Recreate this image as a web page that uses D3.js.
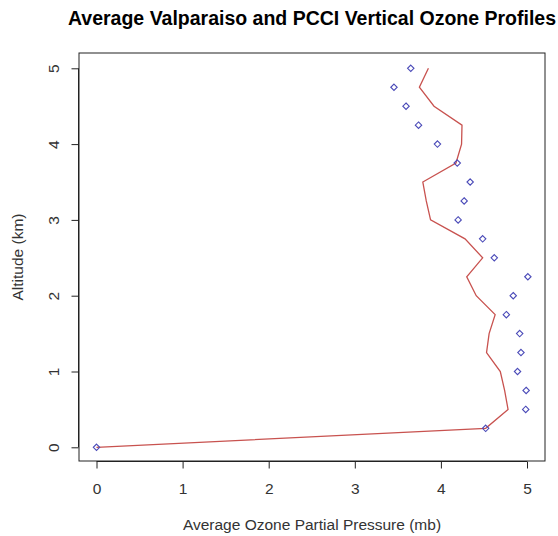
<!DOCTYPE html>
<meta charset="utf-8">
<script src="https://d3js.org/d3.v7.min.js"></script>
<style>
  body { margin: 0; background: #fff; }
  text { font-family: "Liberation Sans", Arial, sans-serif; }
</style>
<div id="my_dataviz"></div>
<script>

// altitudes (km) shared by both profiles
var altitude = [0, 0.25, 0.5, 0.75, 1, 1.25, 1.5, 1.75, 2, 2.25, 2.5, 2.75, 3, 3.25, 3.5, 3.75, 4, 4.25, 4.5, 4.75, 5];

// Valparaiso profile (points)
var valparaiso = [0, 4.52, 4.985, 4.99, 4.89, 4.93, 4.915, 4.76, 4.84, 5.01, 4.62, 4.485, 4.20, 4.27, 4.34, 4.19, 3.96, 3.74, 3.595, 3.455, 3.65];

// PCCI profile (line)
var pcci = [0, 4.52, 4.78, 4.74, 4.69, 4.53, 4.56, 4.63, 4.41, 4.30, 4.485, 4.28, 3.88, 3.83, 3.79, 4.175, 4.24, 4.245, 3.92, 3.75, 3.855];

var xTicks = [0, 1, 2, 3, 4, 5];
var yTicks = [0, 1, 2, 3, 4, 5];

var W = 558, H = 536;
var box = {left: 79, right: 545, top: 53, bottom: 461};

var svg = d3.select("#my_dataviz")
  .append("svg")
    .attr("width", W)
    .attr("height", H);

// R style scales: 4% padding round the data range
var x = d3.scaleLinear().domain([0, 5]).range([96.5, 527]);
var y = d3.scaleLinear().domain([0, 5]).range([447.3, 68.3]);

// plot box
svg.append("rect")
  .attr("x", box.left)
  .attr("y", box.top)
  .attr("width", box.right - box.left)
  .attr("height", box.bottom - box.top)
  .attr("fill", "none")
  .attr("stroke", "#222")
  .attr("stroke-width", 1);

// X axis
var xAxis = svg.append("g")
  .attr("transform", "translate(0," + (box.bottom + 0.5) + ")")
  .call(d3.axisBottom(x).tickValues(xTicks).tickSize(7).tickPadding(14).tickFormat(d3.format("d")));
xAxis.select(".domain").attr("d", "M" + x(0) + ",0H" + x(5)).attr("stroke", "#222");
xAxis.selectAll(".tick line").attr("stroke", "#222");
xAxis.selectAll(".tick text").style("font-size", "15.5px").attr("fill", "#333");

// Y axis
var yAxis = svg.append("g")
  .attr("transform", "translate(" + (box.left - 0.5) + ",0)")
  .call(d3.axisLeft(y).tickValues(yTicks).tickSize(7).tickFormat(d3.format("d")));
yAxis.select(".domain").attr("d", "M0," + y(0) + "V" + y(5)).attr("stroke", "#222");
yAxis.selectAll(".tick line").attr("stroke", "#222");
yAxis.selectAll(".tick text")
  .attr("x", null).attr("dy", null)
  .attr("transform", "translate(-20,0) rotate(-90)")
  .attr("text-anchor", "middle")
  .style("font-size", "15.5px")
  .attr("fill", "#333");

// Title
svg.append("text")
  .attr("x", (box.left + box.right) / 2)
  .attr("y", 25)
  .attr("text-anchor", "middle")
  .style("font-size", "19.5px")
  .style("font-weight", "bold")
  .text("Average Valparaiso and PCCI Vertical Ozone Profiles");

// X label
svg.append("text")
  .attr("x", (box.left + box.right) / 2)
  .attr("y", 530)
  .attr("text-anchor", "middle")
  .style("font-size", "15.5px")
  .attr("fill", "#333")
  .text("Average Ozone Partial Pressure (mb)");

// Y label
svg.append("text")
  .attr("transform", "translate(23," + ((box.top + box.bottom) / 2) + ") rotate(-90)")
  .attr("text-anchor", "middle")
  .style("font-size", "15.5px")
  .attr("fill", "#333")
  .text("Altitude (km)");

// PCCI line
var line = d3.line()
  .x(function(d, i) { return x(d); })
  .y(function(d, i) { return y(altitude[i]); });
svg.append("path")
  .datum(pcci)
  .attr("d", line)
  .attr("fill", "none")
  .attr("stroke", "#c8524f")
  .attr("stroke-width", 1.3);

// Valparaiso points (diamonds)
svg.selectAll("myPoints")
  .data(valparaiso)
  .enter()
  .append("path")
    .attr("d", function(d, i) {
      var cx = x(d), cy = y(altitude[i]), r = 3.2;
      return "M" + cx + "," + (cy - r) + "L" + (cx + r) + "," + cy + "L" + cx + "," + (cy + r) + "L" + (cx - r) + "," + cy + "Z";
    })
    .attr("fill", "none")
    .attr("stroke", "#4a4ab8")
    .attr("stroke-width", 1.1);

</script>
